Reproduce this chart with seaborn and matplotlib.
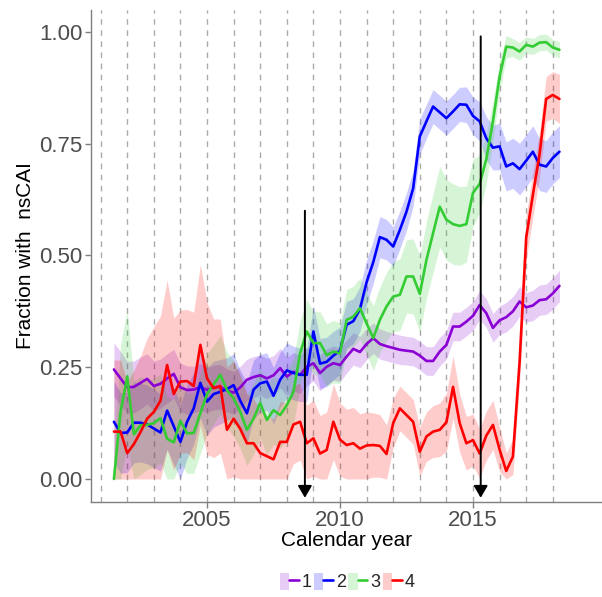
import numpy as np
import pandas as pd
import matplotlib
matplotlib.use("Agg")
import matplotlib.pyplot as plt
import seaborn as sns
from matplotlib.patches import Patch
from matplotlib.lines import Line2D
from matplotlib.legend_handler import HandlerTuple

sns.set_theme(style="white")
plt.rcParams['font.family'] = ['Liberation Sans', 'DejaVu Sans']

# ---------------- data ----------------
years = np.arange(2001.5, 2018.26, 0.25)   # quarterly time points
groups = ['1', '2', '3', '4']
colors = ['#8A00D4', '#0000FF', '#33CC33', '#FF0000']

purple = [.245, .225, .205, .206, .215, .224, .208, .213, .225, .235,
          .205, .199, .200, .206, .199, .205, .206, .198, .193, .205,
          .222, .228, .232, .225, .232, .248, .229, .240, .233, .251,
          .259, .237, .251, .259, .255, .274, .291, .284, .302, .315,
          .302, .297, .293, .289, .287, .285, .276, .264, .264, .285,
          .300, .341, .341, .352, .365, .389, .371, .338, .355, .362,
          .375, .397, .384, .388, .400, .402, .415, .432]
blue = [.128, .103, .104, .126, .126, .122, .113, .104, .153, .118,
        .083, .128, .158, .215, .173, .190, .195, .201, .210, .175,
        .147, .200, .214, .218, .186, .222, .243, .237, .233, .233,
        .330, .258, .262, .276, .287, .345, .353, .380, .440, .485,
        .541, .535, .520, .557, .598, .650, .766, .800, .833, .820,
        .807, .822, .838, .837, .812, .800, .762, .741, .744, .699,
        .706, .693, .712, .732, .703, .699, .718, .732]
green = [.000, .150, .229, .100, .120, .121, .125, .136, .090, .082,
         .130, .102, .103, .147, .190, .212, .233, .199, .180, .150,
         .110, .135, .170, .132, .154, .143, .165, .195, .281, .330,
         .304, .304, .277, .285, .281, .356, .363, .382, .348, .315,
         .356, .386, .408, .412, .453, .453, .414, .490, .550, .609,
         .580, .570, .566, .570, .640, .660, .715, .800, .900, .967,
         .965, .956, .971, .967, .976, .977, .965, .960]
red = [.106, .106, .058, .078, .105, .135, .150, .175, .255, .190,
       .218, .219, .208, .300, .225, .203, .208, .110, .135, .112,
       .080, .080, .058, .051, .044, .083, .083, .122, .128, .080,
       .091, .057, .065, .128, .088, .076, .080, .068, .075, .076,
       .074, .056, .125, .158, .143, .128, .061, .095, .106, .110,
       .127, .206, .125, .080, .087, .057, .097, .121, .066, .018,
       .050, .260, .540, .635, .725, .850, .859, .850]

# half-widths of the confidence bands
purple_hw = [.060, .060, .058, .058, .058, .056, .056, .055, .055, .055,
             .054, .054, .052, .052, .050, .050, .050, .048, .048, .047,
             .046, .046, .045, .045, .044, .044, .043, .043, .042, .042,
             .040, .040, .040, .038, .038, .037, .036, .035, .035, .034,
             .034, .033, .033, .033, .032, .032, .032, .032, .032, .032,
             .032, .032, .032, .032, .032, .032, .032, .032, .032, .033,
             .033, .033, .033, .034, .034, .034, .035, .035]
blue_hw = [.090, .090, .090, .090, .088, .088, .088, .086, .086, .085,
           .084, .082, .080, .078, .076, .074, .072, .070, .070, .068,
           .068, .066, .065, .064, .063, .062, .061, .060, .060, .060,
           .058, .056, .055, .054, .053, .052, .050, .050, .050, .048,
           .046, .045, .044, .042, .042, .040, .040, .038, .038, .038,
           .038, .038, .038, .040, .042, .044, .048, .050, .052, .055,
           .056, .058, .058, .058, .058, .058, .058, .058]
green_hw = [.050, .150, .150, .120, .110, .100, .100, .100, .095, .095,
            .095, .090, .090, .090, .090, .088, .088, .085, .085, .082,
            .080, .080, .078, .078, .076, .075, .075, .075, .072, .072,
            .070, .070, .070, .070, .068, .068, .068, .068, .070, .072,
            .074, .076, .078, .080, .082, .084, .085, .086, .088, .090,
            .090, .090, .088, .085, .075, .065, .055, .045, .035, .025,
            .020, .020, .018, .018, .018, .018, .018, .018]
red_hw = [.160, .160, .160, .165, .170, .180, .190, .190, .190, .170,
          .160, .160, .165, .180, .170, .155, .150, .140, .130, .120,
          .110, .100, .095, .090, .090, .090, .088, .088, .086, .085,
          .085, .085, .085, .085, .082, .080, .080, .078, .075, .072,
          .070, .065, .055, .050, .050, .050, .055, .055, .058, .060,
          .065, .070, .065, .060, .058, .055, .055, .055, .050, .040,
          .040, .045, .050, .050, .050, .050, .052, .055]

vline_years = list(range(2001, 2019))
arrow_x = [2008.68, 2015.29]
arrow_top = [0.60, 0.99]
arrow_bottom = -0.042

xticks = [2005, 2010, 2015]
yticks = [0.00, 0.25, 0.50, 0.75, 1.00]

series = [purple, blue, green, red]
halfw = [purple_hw, blue_hw, green_hw, red_hw]

df = pd.concat([pd.DataFrame({'year': years, 'value': v, 'group': g})
                for g, v in zip(groups, series)], ignore_index=True)

# ---------------- figure ----------------
fig = plt.figure(figsize=(6.02, 5.97), dpi=100)
ax = fig.add_axes([0.1507, 0.1596, 0.8493, 0.8237])

for yr in vline_years:
    ax.axvline(yr, color='#AAAAAA', ls=(0, (4, 4)), lw=1.0, zorder=0)

for v, hw, c in zip(series, halfw, colors):
    v = np.asarray(v); hw = np.asarray(hw)
    ax.fill_between(years, np.clip(v - hw, 0, 1), np.clip(v + hw, 0, 1),
                    color=c, alpha=0.2, lw=0, zorder=1)

sns.lineplot(data=df, x='year', y='value', hue='group',
             palette=dict(zip(groups, colors)), linewidth=1.9,
             estimator=None, legend=False, ax=ax, zorder=2)

for xa, ya in zip(arrow_x, arrow_top):
    ax.annotate('', xy=(xa, arrow_bottom), xytext=(xa, ya),
                arrowprops=dict(arrowstyle='-|>,head_length=0.6,head_width=0.35',
                                color='black', lw=1.4, shrinkA=0, shrinkB=0,
                                mutation_scale=12), zorder=5)

ax.set_xlim(2000.628, 2019.85)
ax.set_ylim(-0.0508, 1.049)
ax.set_xticks(xticks)
ax.set_xticklabels([str(t) for t in xticks])
ax.set_yticks(yticks)
ax.set_yticklabels([f'{t:.2f}' for t in yticks])
ax.tick_params(axis='both', direction='out', length=4, width=1,
               color='#7F7F7F', labelcolor='#4D4D4D', labelsize=16, pad=2,
               bottom=True, left=True)
for s in ['top', 'right']:
    ax.spines[s].set_visible(False)
for s in ['left', 'bottom']:
    ax.spines[s].set_color('#7F7F7F')
    ax.spines[s].set_linewidth(1.0)

ax.set_xlabel('Calendar year', fontsize=15, color='black')
ax.xaxis.set_label_coords(0.5, -0.078)
ax.xaxis.label.set_va('center')
ax.set_ylabel('Fraction with  nsCAI', fontsize=15, color='black')
ax.yaxis.set_label_coords(-0.1285, 0.5)
ax.yaxis.label.set_va('center')

handles = [(Patch(facecolor=c, alpha=0.2, edgecolor='none'),
            Line2D([], [], color=c, lw=1.9)) for c in colors]
fig.legend(handles, groups, handler_map={tuple: HandlerTuple(ndivide=None, pad=0)},
           ncol=4, loc='center', bbox_to_anchor=(347 / 602, 1 - 582 / 597),
           frameon=False, fontsize=13, handlelength=1.05, handleheight=1.1,
           handletextpad=0.15, columnspacing=0.15, borderpad=0)

fig.savefig('out.png', dpi=100)
